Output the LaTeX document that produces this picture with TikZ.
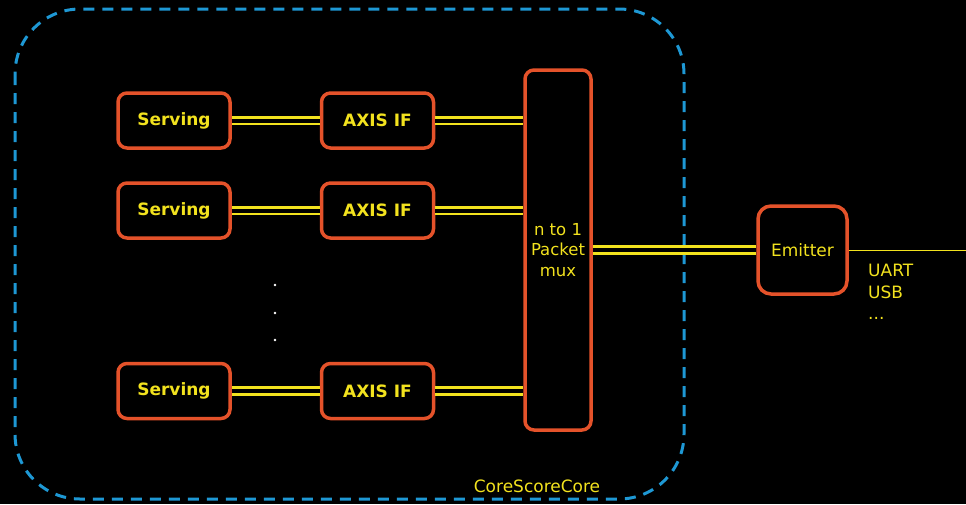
\documentclass[tikz,border=0pt]{standalone}
\usepackage{fontspec}
\setmainfont{DejaVu Sans}
\definecolor{ored}{HTML}{E4522A}
\definecolor{yel}{HTML}{F2E21E}
\definecolor{blu}{HTML}{1E98D4}
\begin{document}
\begin{tikzpicture}[x=1pt,y=-1pt,
  blk/.style={draw=ored,line width=3.5pt,rounded corners=9pt,fill=black,text=yel,inner sep=0pt},
  bbox/.style={blk,minimum width=112pt,minimum height=55pt,font=\fontsize{17}{19}\selectfont\bfseries},
  bus/.style={draw=yel,line width=2.8pt,double=black,double distance=4pt},
  lbl/.style={text=yel,font=\fontsize{17}{20}\selectfont,inner sep=0pt}]
\fill[black] (0,0) rectangle (966,504);
\useasboundingbox (0,0) rectangle (966,504);
\draw[blu,line width=3pt,dash pattern=on 11pt off 8pt,rounded corners=65pt] (15,9) rectangle (684,499);
\node[bbox] (s1) at (174,120.5) {Serving};
\node[bbox] (s2) at (174,210.5) {Serving};
\node[bbox] (s3) at (174,391) {Serving};
\node[bbox] (a1) at (377.5,120.5) {AXIS IF};
\node[bbox] (a2) at (377.5,210.5) {AXIS IF};
\node[bbox] (a3) at (377.5,391) {AXIS IF};
\node[blk,minimum width=66pt,minimum height=360pt,font=\fontsize{16.5}{20.5}\selectfont,align=center] (mux) at (558,250) {n to 1\\Packet\\mux};
\node[blk,minimum width=89pt,minimum height=88pt,rounded corners=13pt,font=\fontsize{17}{19}\selectfont] (em) at (802.5,250) {Emitter};
\coordinate (out) at (966,250);
\foreach \i in {1,2,3}{
  \draw[bus] (s\i.east) -- (a\i.east -| a\i.west);
  \draw[bus] (a\i.east) -- (a\i.east -| mux.west);
}
\draw[bus] (mux.east |- em.west) -- (em.west);
\draw[yel,line width=1pt] (em.east) -- (out);
\foreach \y/\n in {285/d1,313/d2,340/d3}{
  \node[circle,fill=white,inner sep=0pt,minimum size=2.8pt] (\n) at (275,\y) {};
}
\node[lbl,anchor=west,align=left,font=\fontsize{17}{21.5}\selectfont] (ifs) at (868,292) {UART\\USB\\...};
\node[lbl] (core) at (537,486) {CoreScoreCore};
\end{tikzpicture}
\end{document}
